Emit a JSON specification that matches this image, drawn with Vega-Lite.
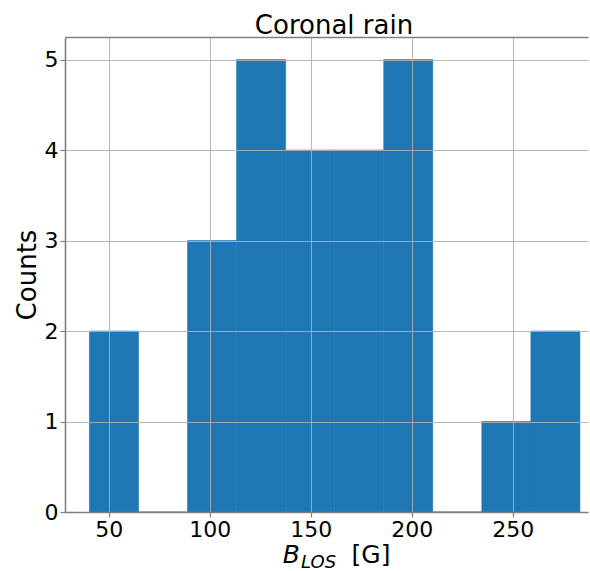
{
  "$schema": "https://vega.github.io/schema/vega-lite/v6.json",
  "autosize": {"type": "none"},
  "padding": {"left": 65, "top": 37, "right": 2, "bottom": 59},
  "width": 523,
  "height": 475,
  "background": "white",
  "config": {
    "view": {"stroke": null},
    "font": "DejaVu Sans",
    "axis": {
      "labelFont": "DejaVu Sans",
      "titleFont": "DejaVu Sans",
      "labelColor": "black",
      "titleColor": "black",
      "titleFontWeight": "normal"
    }
  },
  "title": {
    "text": "Coronal rain",
    "font": "DejaVu Sans",
    "fontSize": 26,
    "fontWeight": "normal",
    "color": "black",
    "anchor": "middle",
    "frame": "group",
    "baseline": "bottom",
    "offset": 0,
    "dx": 7.5,
    "dy": 28
  },
  "data": {
    "values": [
      {"start": 40.4, "end": 64.68, "count": 2},
      {"start": 64.68, "end": 88.96, "count": 0},
      {"start": 88.96, "end": 113.24, "count": 3},
      {"start": 113.24, "end": 137.52, "count": 5},
      {"start": 137.52, "end": 161.8, "count": 4},
      {"start": 161.8, "end": 186.08, "count": 4},
      {"start": 186.08, "end": 210.36, "count": 5},
      {"start": 210.36, "end": 234.64, "count": 0},
      {"start": 234.64, "end": 258.92, "count": 1},
      {"start": 258.92, "end": 283.2, "count": 2}
    ]
  },
  "layer": [
    {
      "mark": {"type": "bar", "color": "#1f77b4", "stroke": "#1f77b4", "strokeWidth": 0.6},
      "encoding": {
        "x": {
          "field": "start",
          "type": "quantitative",
          "scale": {"domain": [28.3, 287.2], "nice": false, "zero": false},
          "axis": {
            "orient": "bottom",
            "values": [50, 100, 150, 200, 250],
            "grid": true,
            "gridColor": "#b0b0b0",
            "gridWidth": 0.9,
            "zindex": 1,
            "domainColor": "#808080",
            "domainWidth": 1.6,
            "tickColor": "#808080",
            "tickSize": 5,
            "tickWidth": 1.2,
            "labelFontSize": 22,
            "labelPadding": 2,
            "title": "B",
            "titleFontSize": 25,
            "titleFontStyle": "italic",
            "titleAlign": "left",
            "titleBaseline": "alphabetic",
            "titleX": 217.3,
            "titleY": 50.7
          }
        },
        "x2": {"field": "end"},
        "y": {
          "field": "count",
          "type": "quantitative",
          "scale": {"domain": [0, 5.25], "nice": false},
          "axis": {
            "values": [0, 1, 2, 3, 4, 5],
            "grid": true,
            "gridColor": "#b0b0b0",
            "gridWidth": 0.9,
            "zindex": 1,
            "domainColor": "#808080",
            "domainWidth": 1.6,
            "tickColor": "#808080",
            "tickSize": 5,
            "tickWidth": 1.2,
            "labelFontSize": 22,
            "labelPadding": 2,
            "title": "Counts",
            "titleFontSize": 26,
            "titleAngle": -90,
            "titleAlign": "center",
            "titleBaseline": "alphabetic",
            "titleX": -30,
            "titleY": 237.5
          }
        },
        "y2": {"datum": 0}
      }
    },
    {
      "mark": {"type": "bar", "opacity": 0},
      "encoding": {
        "x": {
          "field": "start",
          "type": "quantitative",
          "axis": {
            "orient": "top",
            "labels": false,
            "ticks": false,
            "grid": false,
            "title": null,
            "domain": true,
            "domainColor": "#808080",
            "domainWidth": 1.6,
            "zindex": 1
          }
        },
        "x2": {"field": "end"}
      }
    },
    {
      "mark": {"type": "bar", "opacity": 0},
      "encoding": {
        "x": {
          "field": "start",
          "type": "quantitative",
          "axis": {
            "orient": "bottom",
            "labels": false,
            "ticks": false,
            "grid": false,
            "domain": false,
            "title": "LOS",
            "titleFontSize": 18,
            "titleFontStyle": "italic",
            "titleAlign": "left",
            "titleBaseline": "alphabetic",
            "titleX": 235.5,
            "titleY": 55.5
          }
        },
        "x2": {"field": "end"}
      }
    },
    {
      "mark": {"type": "bar", "opacity": 0},
      "encoding": {
        "x": {
          "field": "start",
          "type": "quantitative",
          "axis": {
            "orient": "bottom",
            "labels": false,
            "ticks": false,
            "grid": false,
            "domain": false,
            "title": "[G]",
            "titleFontSize": 25,
            "titleAlign": "left",
            "titleBaseline": "alphabetic",
            "titleX": 286,
            "titleY": 50.7
          }
        },
        "x2": {"field": "end"}
      }
    }
  ],
  "resolve": {"axis": {"x": "independent"}}
}
